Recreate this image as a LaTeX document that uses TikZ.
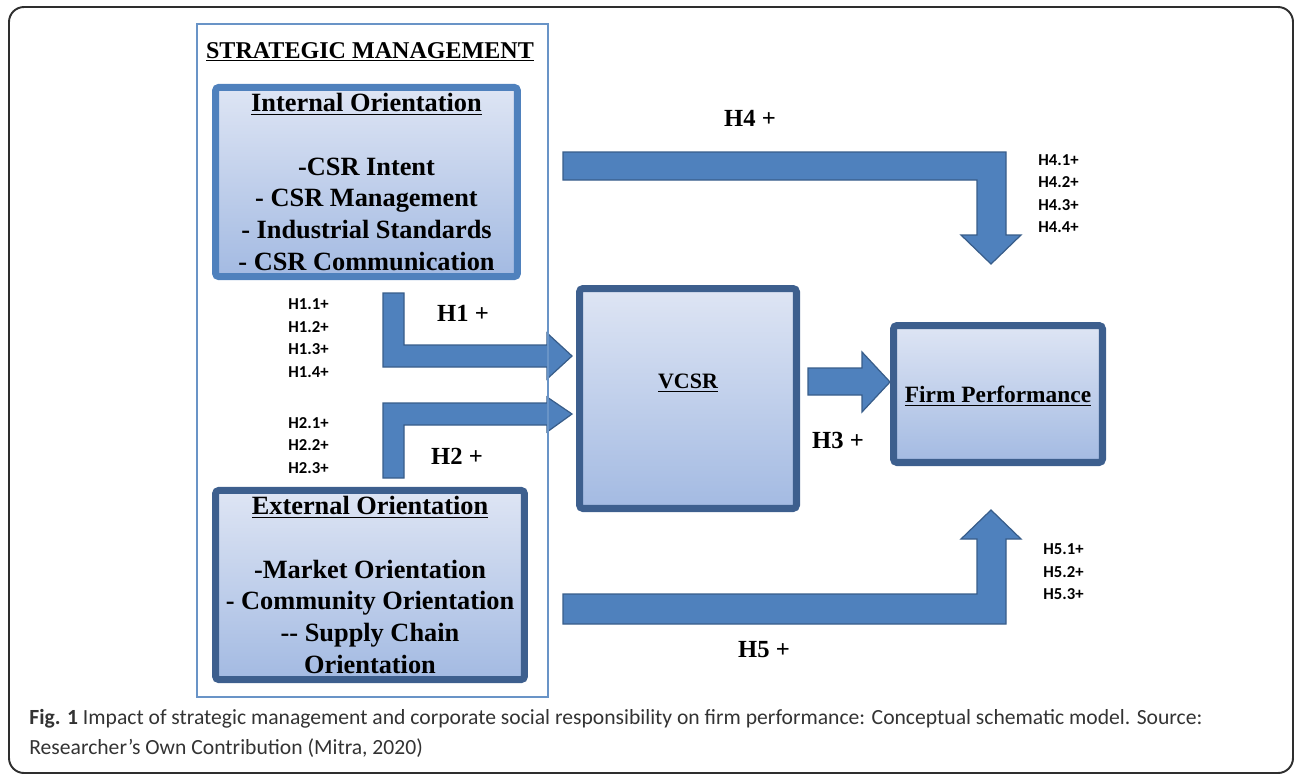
\documentclass[tikz,border=0pt]{standalone}
\usepackage{fontspec}
\setmainfont{Liberation Serif}
\newfontfamily\calib{Carlito}
\usepackage{xcolor}
\usepackage{tikz}
\definecolor{arrowblue}{HTML}{4F81BD}
\definecolor{arrowline}{HTML}{385D8A}
\definecolor{boxdark}{HTML}{3D5F8E}
\definecolor{shadetop}{HTML}{DEE5F4}
\definecolor{shadebot}{HTML}{A3BAE2}
\definecolor{framegray}{HTML}{2E2E2E}
\definecolor{captext}{HTML}{333333}

\begin{document}
\begin{tikzpicture}[x=0.02cm, y=-0.02cm,
    orientbox/.style={rounded corners=2pt, line width=4pt, top color=shadetop, bottom color=shadebot,
                      align=center, font=\bfseries\fontsize{15}{18.1}\selectfont},
    bigarrow/.style={fill=arrowblue, draw=arrowline, line width=0.7pt, line join=miter},
    hyp/.style={font=\bfseries\fontsize{14}{16}\selectfont},
    subhyp/.style={anchor=west, inner sep=0pt, align=left, font=\calib\bfseries\fontsize{9.5}{12.8}\selectfont}]
    \useasboundingbox (0,0) rectangle (1295,775);
    \draw[framegray, line width=1.1pt, rounded corners=0.3cm] (9,7) rectangle (1293,773);

    % block arrows
    \draw[bigarrow] (563,152) -- (1006,152) -- (1006,235) -- (1021,235) -- (991,264) -- (961,235)
                    -- (977,235) -- (977,180) -- (563,180) -- cycle;
    \draw[bigarrow] (563,624) -- (1006,624) -- (1006,539) -- (1021,539) -- (991,510) -- (961,539)
                    -- (977,539) -- (977,594) -- (563,594) -- cycle;
    \draw[bigarrow] (383,293) -- (404,293) -- (404,345) -- (547,345) -- (547,333) -- (572,356)
                    -- (547,379) -- (547,367) -- (383,367) -- cycle;
    \draw[bigarrow] (383,478) -- (383,403) -- (547,403) -- (547,397) -- (572,414) -- (547,432)
                    -- (547,425) -- (404,425) -- (404,478) -- cycle;
    \draw[bigarrow] (808,368) -- (862,368) -- (862,352) -- (890,382) -- (862,412) -- (862,395)
                    -- (808,395) -- cycle;

    \draw[arrowblue!85!white, line width=0.6pt] (197,24) rectangle (548,697);
    \node(SM) at (370,52) {\bfseries\fontsize{13.7}{15}\selectfont\underline{STRATEGIC MANAGEMENT}};

    \node(IO) [orientbox, draw=arrowblue, minimum width=6.04cm, minimum height=3.78cm] at (366.5,182)
        {\underline{Internal Orientation}\\ \\-CSR Intent\\- CSR Management\\- Industrial Standards\\- CSR Communication};
    \node(EO) [orientbox, draw=boxdark, minimum width=6.18cm, minimum height=3.78cm] at (370,585)
        {\underline{External Orientation}\\ \\-Market Orientation\\- Community Orientation\\-{}- Supply Chain\\Orientation};
    \node(VC) [orientbox, draw=boxdark, minimum width=4.34cm, minimum height=4.40cm] at (688,398.5) {};
    \node(VCt) at (688,383) {\bfseries\fontsize{12.5}{15}\selectfont\underline{VCSR}};
    \node(FP) [orientbox, draw=boxdark, minimum width=4.18cm, minimum height=2.74cm] at (998,394) {};
    \node(FPt) at (998,396) {\bfseries\fontsize{13.3}{15}\selectfont\underline{Firm Performance}};

    \node(H4) [hyp] at (750,118) {H4 +};
    \node(H1) [hyp] at (463,313) {H1 +};
    \node(H2) [hyp] at (457,456) {H2 +};
    \node(H3) [hyp] at (838,440) {H3 +};
    \node(H5) [hyp] at (764,650) {H5 +};

    \node(H1s) [subhyp] at (288,338) {H1.1+\\H1.2+\\H1.3+\\H1.4+};
    \node(H2s) [subhyp] at (288,445.5) {H2.1+\\H2.2+\\H2.3+};
    \node(H4s) [subhyp] at (1038,193.5) {H4.1+\\H4.2+\\H4.3+\\H4.4+};
    \node(H5s) [subhyp] at (1043,572) {H5.1+\\H5.2+\\H5.3+};

    \node(Cap) [anchor=west, inner sep=0pt, align=left, text=captext, font=\calib\fontsize{12.3}{17}\selectfont] at (29,733)
        {\textbf{Fig. 1} Impact of strategic management and corporate social responsibility on firm performance: Conceptual schematic model. Source:\\Researcher’s Own Contribution (Mitra, 2020)};
  \end{tikzpicture}
\end{document}
